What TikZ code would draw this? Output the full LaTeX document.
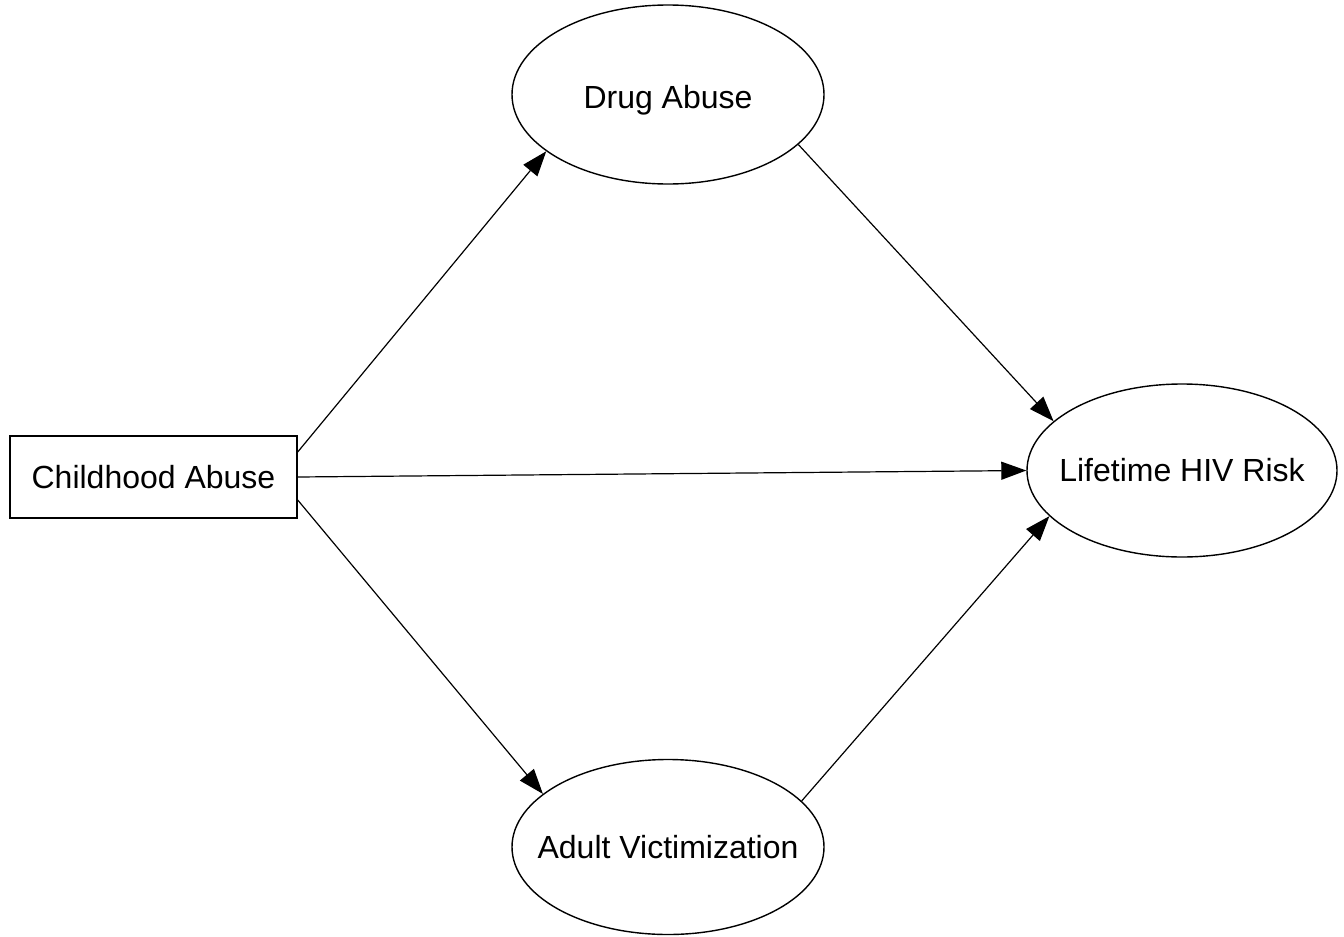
\documentclass[tikz,border=0pt]{standalone}
\usepackage{fontspec}
\setmainfont{Liberation Sans}
\usetikzlibrary{arrows.meta,shapes.geometric}
\begin{document}
\begin{tikzpicture}[x=1pt,y=-1pt,
  every node/.style={font=\fontsize{32}{36}\selectfont, inner sep=0pt, line width=1.4pt},
  boxnode/.style={draw, rectangle, minimum width=287pt, minimum height=82pt},
  ellnode/.style={draw, ellipse, inner sep=0pt},
  conn/.style={line width=1.2pt, -{Triangle[length=25pt,width=18pt]}}]
\useasboundingbox (0,0) rectangle (1344,937);
\node[boxnode] (ca) at (153.5,477) {Childhood Abuse};
\node[ellnode, minimum width=312pt, minimum height=179pt, text height=24pt, text depth=7pt] (da) at (668,94.5) {\raisebox{-5pt}{\makebox[0pt]{Drug Abuse}}};
\node[ellnode, minimum width=310pt, minimum height=173pt] (lr) at (1182,470.5) {\makebox[0pt]{Lifetime HIV Risk}};
\node[ellnode, minimum width=312pt, minimum height=175pt] (av) at (668,847) {\makebox[0pt]{Adult Victimization}};
\draw[conn] ([yshift=25pt]ca.east) -- (da.205.6);
\draw[conn] (da.339.5) -- (lr.159.4);
\draw[conn] (ca.east) -- (lr.west);
\draw[conn] ([yshift=-23pt]ca.east) -- (av.157.9);
\draw[conn] (av.19.2) -- (lr.199.5);
\end{tikzpicture}
\end{document}
